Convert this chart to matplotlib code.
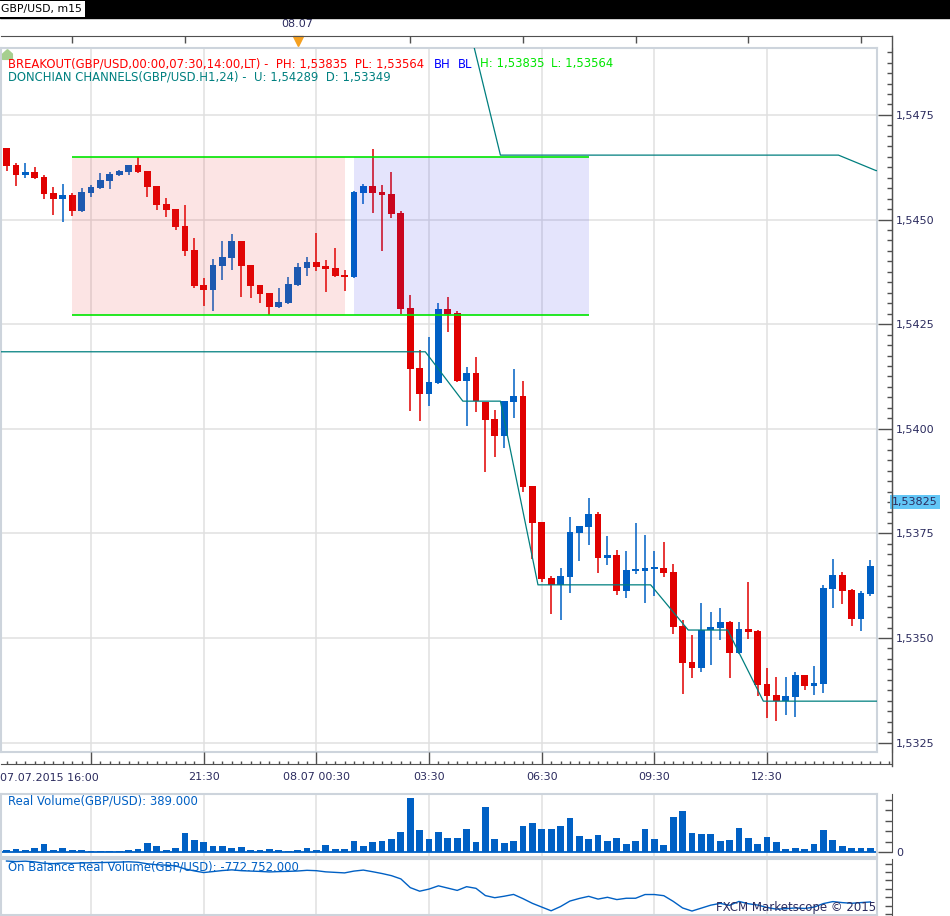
import matplotlib
matplotlib.use("Agg")
import matplotlib.pyplot as plt
import numpy as np
import pandas as pd
from matplotlib.patches import Rectangle
from matplotlib.lines import Line2D
from matplotlib.ticker import MultipleLocator, FixedLocator, FuncFormatter
from matplotlib.transforms import offset_copy, blended_transform_factory

W, H = 950, 916

# GBP/USD m15 candles
times = pd.date_range("2015-07-07 16:15", periods=93, freq="15min")
opens = [1.54671, 1.54631, 1.54607, 1.54614, 1.54602, 1.54564, 1.54550, 1.54559, 1.54521, 1.54564,
         1.54576, 1.54592, 1.54607, 1.54614, 1.54631, 1.54616, 1.54580, 1.54537, 1.54525, 1.54485,
         1.54427, 1.54344, 1.54332, 1.54389, 1.54408, 1.54449, 1.54392, 1.54344, 1.54325, 1.54291,
         1.54301, 1.54344, 1.54384, 1.54399, 1.54389, 1.54384, 1.54368, 1.54363, 1.54564, 1.54580,
         1.54566, 1.54561, 1.54516, 1.54289, 1.54145, 1.54083, 1.54110, 1.54286, 1.54277, 1.54114,
         1.54133, 1.54064, 1.54023, 1.53983, 1.54064, 1.54078, 1.53863, 1.53777, 1.53643, 1.53627,
         1.53646, 1.53751, 1.53765, 1.53796, 1.53691, 1.53698, 1.53612, 1.53660, 1.53660, 1.53665,
         1.53667, 1.53658, 1.53529, 1.53443, 1.53428, 1.53519, 1.53524, 1.53538, 1.53464, 1.53522,
         1.53517, 1.53390, 1.53364, 1.53350, 1.53359, 1.53412, 1.53385, 1.53390, 1.53617, 1.53651,
         1.53615, 1.53545, 1.53605]
highs = [1.54671, 1.54634, 1.54634, 1.54626, 1.54607, 1.54578, 1.54585, 1.54564, 1.54576, 1.54583,
         1.54611, 1.54614, 1.54619, 1.54631, 1.54650, 1.54616, 1.54580, 1.54552, 1.54525, 1.54535,
         1.54456, 1.54360, 1.54406, 1.54449, 1.54466, 1.54449, 1.54392, 1.54344, 1.54325, 1.54337,
         1.54363, 1.54396, 1.54411, 1.54468, 1.54403, 1.54432, 1.54380, 1.54568, 1.54585, 1.54669,
         1.54583, 1.54614, 1.54521, 1.54320, 1.54188, 1.54219, 1.54301, 1.54315, 1.54282, 1.54148,
         1.54172, 1.54064, 1.54045, 1.54067, 1.54143, 1.54114, 1.53863, 1.53777, 1.53648, 1.53667,
         1.53789, 1.53768, 1.53835, 1.53801, 1.53744, 1.53710, 1.53708, 1.53775, 1.53746, 1.53708,
         1.53730, 1.53677, 1.53543, 1.53507, 1.53584, 1.53562, 1.53572, 1.53541, 1.53538, 1.53634,
         1.53519, 1.53428, 1.53407, 1.53407, 1.53419, 1.53412, 1.53433, 1.53627, 1.53689, 1.53658,
         1.53617, 1.53612, 1.53686]
lows = [1.54617, 1.54579, 1.54600, 1.54598, 1.54550, 1.54512, 1.54493, 1.54509, 1.54519, 1.54555,
        1.54574, 1.54573, 1.54604, 1.54607, 1.54611, 1.54555, 1.54523, 1.54506, 1.54475, 1.54413,
        1.54337, 1.54294, 1.54282, 1.54356, 1.54380, 1.54315, 1.54313, 1.54301, 1.54272, 1.54289,
        1.54299, 1.54342, 1.54365, 1.54377, 1.54327, 1.54363, 1.54329, 1.54361, 1.54537, 1.54516,
        1.54425, 1.54504, 1.54274, 1.54043, 1.54019, 1.54055, 1.54108, 1.54231, 1.54112, 1.54007,
        1.54040, 1.53897, 1.53933, 1.53954, 1.54026, 1.53849, 1.53689, 1.53634, 1.53557, 1.53543,
        1.53608, 1.53684, 1.53722, 1.53655, 1.53675, 1.53603, 1.53596, 1.53653, 1.53584, 1.53600,
        1.53646, 1.53510, 1.53366, 1.53404, 1.53419, 1.53436, 1.53495, 1.53404, 1.53462, 1.53498,
        1.53361, 1.53309, 1.53302, 1.53316, 1.53311, 1.53376, 1.53364, 1.53369, 1.53572, 1.53581,
        1.53529, 1.53517, 1.53600]
closes = [1.54629, 1.54607, 1.54614, 1.54600, 1.54562, 1.54550, 1.54559, 1.54521, 1.54566, 1.54578,
          1.54595, 1.54609, 1.54616, 1.54631, 1.54614, 1.54578, 1.54535, 1.54523, 1.54482, 1.54425,
          1.54341, 1.54332, 1.54392, 1.54411, 1.54449, 1.54389, 1.54341, 1.54322, 1.54291, 1.54303,
          1.54346, 1.54387, 1.54399, 1.54387, 1.54382, 1.54365, 1.54363, 1.54566, 1.54580, 1.54564,
          1.54559, 1.54513, 1.54286, 1.54143, 1.54083, 1.54112, 1.54286, 1.54274, 1.54114, 1.54133,
          1.54067, 1.54021, 1.53983, 1.54067, 1.54078, 1.53861, 1.53775, 1.53641, 1.53627, 1.53648,
          1.53753, 1.53768, 1.53796, 1.53691, 1.53698, 1.53612, 1.53663, 1.53663, 1.53667, 1.53667,
          1.53655, 1.53526, 1.53440, 1.53428, 1.53519, 1.53526, 1.53538, 1.53464, 1.53522, 1.53514,
          1.53388, 1.53361, 1.53350, 1.53361, 1.53412, 1.53385, 1.53392, 1.53620, 1.53651, 1.53612,
          1.53545, 1.53608, 1.53672]
# real volume, thousands
volume = [220, 310, 220, 410, 830, 220, 410, 220, 220, 120,
          120, 120, 120, 220, 310, 880, 600, 220, 410, 1830,
          1170, 980, 600, 600, 410, 500, 220, 220, 310, 220,
          120, 220, 410, 220, 690, 310, 310, 1070, 600, 980,
          1070, 1260, 1930, 5160, 2120, 1260, 1930, 1360, 1360, 2210,
          980, 4300, 1260, 880, 1070, 2500, 2780, 2210, 2210, 2500,
          3260, 1550, 1260, 1640, 1070, 1360, 790, 1070, 2210, 1260,
          690, 3350, 3920, 1830, 1740, 1740, 1070, 1170, 2310, 1360,
          790, 1450, 980, 310, 410, 310, 790, 2120, 1170, 600,
          410, 410, 389]
obv_last = -772752  # thousands

# breakout box sessions
box_from, box_to, trade_to = "2015-07-07 18:00", "2015-07-08 01:15", "2015-07-08 07:45"
ph, pl = 1.53835, 1.53564
dc_u, dc_d = 1.54289, 1.53349
mark_price = 1.53825

# donchian H1 lines (bar position, price)
dc_lo_x = [-1, 44.6, 48.6, 52.6, 56.6, 68.6, 72.6, 76.8, 80.6, 94]
dc_lo_y = [1.54184, 1.54184, 1.54066, 1.54066, 1.53627, 1.53627, 1.53519, 1.53519, 1.53349, 1.53349]
dc_up_x = [-1, 48.6, 52.6, 88.6, 92.6, 94]
dc_up_y = [1.55022, 1.55022, 1.54654, 1.54654, 1.54617, 1.54617]

BULL, BEAR = "#0060c4", "#e00000"
GRID = "#e0e0e0"
BORDER = "#cdd4dc"
NAVY = "#2b2b5e"
AXC = "#505050"
FS = 8.4


def fx(px):
    return px / W


def fy(py):
    return 1 - py / H


def fmt(v, d=5):
    return f"{v:.{d}f}".replace(".", ",")


o, h, l, c = map(np.array, (opens, highs, lows, closes))
vol = np.array(volume)
x = np.arange(len(times))
cols = np.where(c >= o, BULL, BEAR)

step = 9.39
x0 = (1 - 6.5) / step
xlim_main = (x0, x0 + 876 / step)
xlim_axis = (x0, x0 + 891 / step)

major = [i for i, t in enumerate(times) if t.minute == 30 and t.hour % 3 == 0]
topt = [i for i, t in enumerate(times) if t.minute == 0 and t.hour % 3 == 0]
day_i = [i for i, t in enumerate(times) if t.hour == 0 and t.minute == 0][0]

fig = plt.figure(figsize=(W / 100, H / 100), dpi=100)

# header bar
fig.add_artist(Rectangle((0, fy(18)), 1, 18 / H, transform=fig.transFigure, color="black"))
fig.text(fx(1), fy(9), "GBP/USD, m15", size=7.8, va="center", color="black",
         bbox=dict(boxstyle="square,pad=0.25", fc="white", ec="none"))


def panel(top, bottom):
    a = fig.add_axes([fx(1), fy(bottom), fx(877) - fx(1), (bottom - top) / H])
    a.set_xlim(*xlim_main)
    a.set_xticks(major)
    a.tick_params(length=0, labelbottom=False, labelleft=False)
    a.grid(True, axis="x", color=GRID, lw=1.1)
    a.set_axisbelow(True)
    for s in a.spines.values():
        s.set_color(BORDER)
        s.set_linewidth(1.5)
    return a


def side_axis(top, bottom, ylim):
    a = fig.add_axes([fx(892), fy(bottom), 1e-4, (bottom - top) / H])
    a.set_ylim(*ylim)
    a.xaxis.set_visible(False)
    for s in ["left", "top", "bottom"]:
        a.spines[s].set_visible(False)
    a.spines["right"].set_color(AXC)
    a.yaxis.tick_right()
    return a


# main price panel
ax = panel(48, 752)
ax.set_ylim(1.532275, 1.54910)
yt = np.arange(1.5325, 1.549, 0.0025)
ax.set_yticks(yt)
ax.grid(True, axis="y", color=GRID, lw=1.1)

ax.vlines(x, l, h, colors=cols, lw=1.1, zorder=2)
ax.bar(x, np.maximum(np.abs(c - o), 0.00004), bottom=np.minimum(o, c), width=0.72,
       color=cols, zorder=2.5)

i0 = times.get_loc(pd.Timestamp(box_from))
i1 = times.get_loc(pd.Timestamp(box_to))
i2 = times.get_loc(pd.Timestamp(trade_to))
bx_hi = h[i0:i1 + 1].max()
bx_lo = l[i0:i1 + 1].min()
ax.add_patch(Rectangle((i0, bx_lo), i1 - i0, bx_hi - bx_lo, fc=(0.933, 0.184, 0.184),
                       alpha=0.13, lw=0, zorder=3))
ax.add_patch(Rectangle((i1 + 1, bx_lo), i2 - i1 - 1, bx_hi - bx_lo, fc=(0.184, 0.184, 0.92),
                       alpha=0.13, lw=0, zorder=3))
ax.hlines([bx_hi, bx_lo], i0, i2, color="#00e600", lw=1.2, zorder=4)

ax.plot(dc_lo_x, dc_lo_y, color="#007f7f", lw=0.9, zorder=4)
ax.plot(dc_up_x, dc_up_y, color="#007f7f", lw=0.9, zorder=4)

house = [(0, 1), (1, 0.1), (1, -1), (-1, -1), (-1, 0.1), (0, 1)]
ax.plot([0.007], [0.991], marker=house, ms=7, color="#a6cf8f", transform=ax.transAxes,
        clip_on=False, zorder=5)

fig.text(fx(8), fy(64), f"BREAKOUT(GBP/USD,00:00,07:30,14:00,LT) -  PH: {fmt(ph)}  PL: {fmt(pl)}",
         color="#ff0000", size=FS, va="center")
fig.text(fx(434), fy(64), "BH", color="#0000ff", size=FS, va="center")
fig.text(fx(458), fy(64), "BL", color="#0000ff", size=FS, va="center")
fig.text(fx(480), fy(64), f"H: {fmt(ph)}", color="#00e600", size=FS, va="center")
fig.text(fx(551), fy(64), f"L: {fmt(pl)}", color="#00e600", size=FS, va="center")
fig.text(fx(8), fy(77), f"DONCHIAN CHANNELS(GBP/USD.H1,24) -  U: {fmt(dc_u)}  D: {fmt(dc_d)}",
         color="#008080", size=FS, va="center")

# price scale
axy = side_axis(48, 752, ax.get_ylim())
axy.yaxis.set_major_locator(FixedLocator(yt))
axy.yaxis.set_minor_locator(MultipleLocator(0.00025))
axy.yaxis.set_major_formatter(FuncFormatter(lambda v, _: fmt(v, 4)))
axy.tick_params(which="major", direction="in", length=10, width=1, colors=AXC,
                labelcolor=NAVY, labelsize=8, pad=3)
axy.tick_params(which="minor", direction="in", length=3.5, width=1, colors=AXC)
axy.text(1, mark_price, fmt(mark_price), transform=blended_transform_factory(axy.transAxes, axy.transData),
         ha="left", va="center", size=8, color=NAVY,
         bbox=dict(boxstyle="square,pad=0.2", fc="#62c6f6", ec="none"))
fig.add_artist(Line2D([fx(892)] * 2, [fy(36), fy(766)], color=AXC, lw=1))

# bottom time axis
axt = fig.add_axes([fx(1), fy(764), fx(892) - fx(1), 1e-4])
axt.set_xlim(*xlim_axis)
axt.yaxis.set_visible(False)
for s in ["left", "top", "right"]:
    axt.spines[s].set_visible(False)
axt.spines["bottom"].set_color(AXC)
labels = []
for k, i in enumerate(major):
    t = times[i]
    if k == 0:
        labels.append("")
    elif t.hour == 0:
        labels.append(t.strftime("%d.%m %H:%M"))
    else:
        labels.append(t.strftime("%H:%M"))
axt.set_xticks(major)
axt.set_xticklabels(labels)
axt.xaxis.set_minor_locator(MultipleLocator(1))
axt.tick_params(which="major", direction="in", length=8.6, width=1, colors=AXC,
                labelcolor=NAVY, labelsize=8, pad=6)
axt.tick_params(which="minor", direction="in", length=2.5, width=1, colors=AXC)
fig.text(fx(0), fy(778), (times[0] - pd.Timedelta("15min")).strftime("%d.%m.%Y %H:%M"),
         color=NAVY, size=8, va="center", ha="left")

# top time axis
axT = fig.add_axes([fx(1), fy(36), fx(892) - fx(1), 1e-4])
axT.set_xlim(*xlim_axis)
axT.yaxis.set_visible(False)
for s in ["left", "top", "right"]:
    axT.spines[s].set_visible(False)
axT.spines["bottom"].set_color(AXC)
axT.set_xticks(topt)
axT.tick_params(direction="out", length=5, width=1, colors=AXC, labelbottom=False)
axT.annotate(times[day_i].strftime("%d.%m"), xy=(day_i, 0), xycoords=("data", "axes fraction"),
             xytext=(0, 5), textcoords="offset points", ha="center", va="bottom",
             size=8, color=NAVY)
axT.plot([day_i], [0], marker="v", ms=7, color="#f5a020", clip_on=False,
         transform=offset_copy(axT.transData, fig=fig, y=-3.5, units="points"))

# volume panel
axv = panel(794, 857)
vmax = 5540
axv.set_ylim(-430, vmax)
axv.bar(x, vol, width=0.72, color=BULL, zorder=2)
axv.axhline(0, color=BULL, lw=1.3, zorder=2)
axv.text(fx(8), fy(801), f"Real Volume(GBP/USD): {volume[-1]}.000", transform=fig.transFigure,
         color=BULL, size=FS, va="center")
axvy = side_axis(794, 857, axv.get_ylim())
axvy.spines["right"].set_bounds(0, vmax)
axvy.yaxis.set_major_locator(FixedLocator([0]))
axvy.yaxis.set_minor_locator(MultipleLocator(1000))
axvy.tick_params(which="major", direction="in", length=10, width=1, colors=AXC,
                 labelcolor=NAVY, labelsize=8, pad=3)
axvy.tick_params(which="minor", direction="in", length=5, width=1, colors=AXC)

# on balance volume panel
signed = np.sign(np.diff(c)) * vol[1:]
obv = np.concatenate([[0], np.cumsum(signed)])
obv = obv + obv_last - obv[-1]
axo = panel(859, 915)
axo.set_ylim(obv[0] - 32000, obv[0] + 1200)
axo.plot(x, obv, color=BULL, lw=1, zorder=3)
obv_txt = f"{obv_last:,}".replace(",", ".") + ".000"
axo.text(fx(8), fy(867), f"On Balance Real Volume(GBP/USD): {obv_txt}", transform=fig.transFigure,
         color=BULL, size=FS, va="center", zorder=1)
axoy = side_axis(859, 915, axo.get_ylim())
axoy.yaxis.set_major_locator(MultipleLocator(5000))
axoy.tick_params(direction="in", length=5, width=1, colors=AXC, labelright=False)

fig.text(fx(876), fy(908), "FXCM Marketscope \u00a9 2015", ha="right", va="center",
         color=NAVY, size=8.5)

fig.savefig("out.png", dpi=100)
